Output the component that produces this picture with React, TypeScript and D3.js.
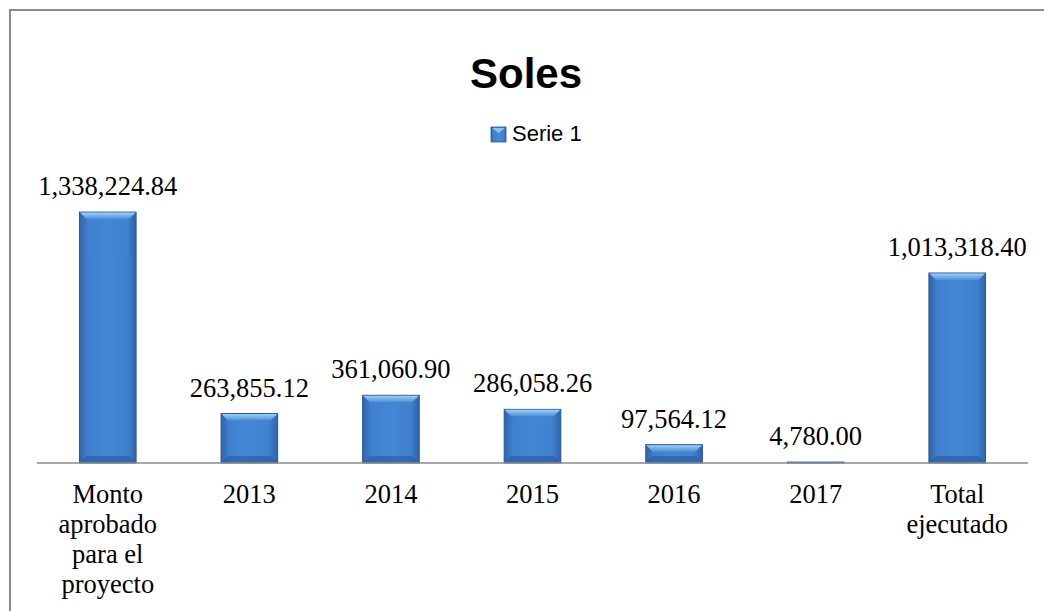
import React from "react";
import * as d3 from "d3";

// chart data
const categories = [
  ["Monto", "aprobado", "para el", "proyecto"],
  ["2013"],
  ["2014"],
  ["2015"],
  ["2016"],
  ["2017"],
  ["Total", "ejecutado"],
];
const values = [1338224.84, 263855.12, 361060.9, 286058.26, 97564.12, 4780.0, 1013318.4];
const seriesName = "Serie 1";
const title = "Soles";

const W = 1044;
const H = 611;

export default function App() {
  const ref = React.useRef<SVGSVGElement>(null);

  React.useEffect(() => {
    const svg = d3.select(ref.current);
    svg.selectAll("*").remove();

    const keys = categories.map((c) => c.join(" "));
    const x = d3
      .scaleBand()
      .domain(keys)
      .range([37, 1028])
      .paddingInner(0.6)
      .paddingOuter(0.3);
    const y = d3.scaleLinear().domain([0, 1600000]).range([463, 163]);

    const defs = svg.append("defs");
    const body = defs
      .append("linearGradient")
      .attr("id", "barBody")
      .attr("x1", 0)
      .attr("x2", 1)
      .attr("y1", 0)
      .attr("y2", 0);
    body.append("stop").attr("offset", "0%").attr("stop-color", "#2f63a8");
    body.append("stop").attr("offset", "15%").attr("stop-color", "#3f80cf");
    body.append("stop").attr("offset", "50%").attr("stop-color", "#4587d6");
    body.append("stop").attr("offset", "85%").attr("stop-color", "#3f80cf");
    body.append("stop").attr("offset", "100%").attr("stop-color", "#2f63a8");

    const top = defs
      .append("linearGradient")
      .attr("id", "barTop")
      .attr("x1", 0)
      .attr("x2", 0)
      .attr("y1", 0)
      .attr("y2", 1);
    top.append("stop").attr("offset", "0%").attr("stop-color", "#9fd0f8");
    top.append("stop").attr("offset", "100%").attr("stop-color", "#4b8ed8");

    // frame
    svg
      .append("path")
      .attr("d", `M10,${H} L10,10 L${W},10`)
      .attr("fill", "none")
      .attr("stroke", "#8a8a8a")
      .attr("stroke-width", 2);

    // title
    svg
      .append("text")
      .attr("x", 526)
      .attr("y", 88)
      .attr("text-anchor", "middle")
      .attr("font-family", "'Liberation Sans', Arial, sans-serif")
      .attr("font-weight", "bold")
      .attr("font-size", 42)
      .text(title);

    // legend
    const lg = svg.append("g").attr("transform", "translate(491,127)");
    lg.append("rect")
      .attr("width", 15)
      .attr("height", 15)
      .attr("fill", "url(#barBody)")
      .attr("stroke", "#2c5a94")
      .attr("stroke-width", 0.8);
    lg.append("path").attr("d", "M1,1 L14,1 L7.5,6 Z").attr("fill", "#8cc2f2");
    lg.append("text")
      .attr("x", 21)
      .attr("y", 14)
      .attr("font-family", "'Liberation Sans', Arial, sans-serif")
      .attr("font-size", 22)
      .text(seriesName);

    // bars
    const bars = svg.append("g");
    keys.forEach((k, i) => {
      const bx = x(k)!;
      const bw = x.bandwidth();
      const by = y(values[i]);
      const bh = y(0) - by;
      const g = bars.append("g");
      g.append("rect")
        .attr("x", bx)
        .attr("y", by)
        .attr("width", bw)
        .attr("height", bh)
        .attr("fill", "url(#barBody)")
        .attr("stroke", "#2b5890")
        .attr("stroke-width", 1);
      const bev = Math.min(7, bh / 2);
      if (bh > 2) {
        g.append("path")
          .attr(
            "d",
            `M${bx + 0.5},${by + 0.5} L${bx + bw - 0.5},${by + 0.5} L${bx + bw - bev},${by + bev} L${bx + bev},${by + bev} Z`
          )
          .attr("fill", "url(#barTop)");
        g.append("path")
          .attr(
            "d",
            `M${bx + 0.5},${by + bh - 0.5} L${bx + bw - 0.5},${by + bh - 0.5} L${bx + bw - bev},${by + bh - bev} L${bx + bev},${by + bh - bev} Z`
          )
          .attr("fill", "#2d5fa0")
          .attr("opacity", 0.7);
      }
    });

    // axis line
    svg
      .append("line")
      .attr("x1", 37)
      .attr("x2", 1028)
      .attr("y1", y(0))
      .attr("y2", y(0))
      .attr("stroke", "#8c8c8c")
      .attr("stroke-width", 1.5);

    const fmt = d3.format(",.2f");
    // value labels
    svg
      .append("g")
      .selectAll("text")
      .data(values)
      .join("text")
      .attr("x", (d, i) => x(keys[i])! + x.bandwidth() / 2)
      .attr("y", (d) => y(d) - 17)
      .attr("text-anchor", "middle")
      .attr("font-family", "'Liberation Serif', 'Times New Roman', serif")
      .attr("font-size", 26.5)
      .text((d) => fmt(d));

    // category labels
    const cl = svg.append("g");
    categories.forEach((lines, i) => {
      const t = cl
        .append("text")
        .attr("text-anchor", "middle")
        .attr("font-family", "'Liberation Serif', 'Times New Roman', serif")
        .attr("font-size", 26.5);
      lines.forEach((ln, j) => {
        t.append("tspan")
          .attr("x", x(keys[i])! + x.bandwidth() / 2)
          .attr("y", 503 + j * 30)
          .text(ln);
      });
    });
  }, []);

  return (
    <div style={{ position: "absolute", left: 0, top: 0 }}>
      <svg ref={ref} width={W} height={H} style={{ display: "block", background: "#fff" }} />
    </div>
  );
}
